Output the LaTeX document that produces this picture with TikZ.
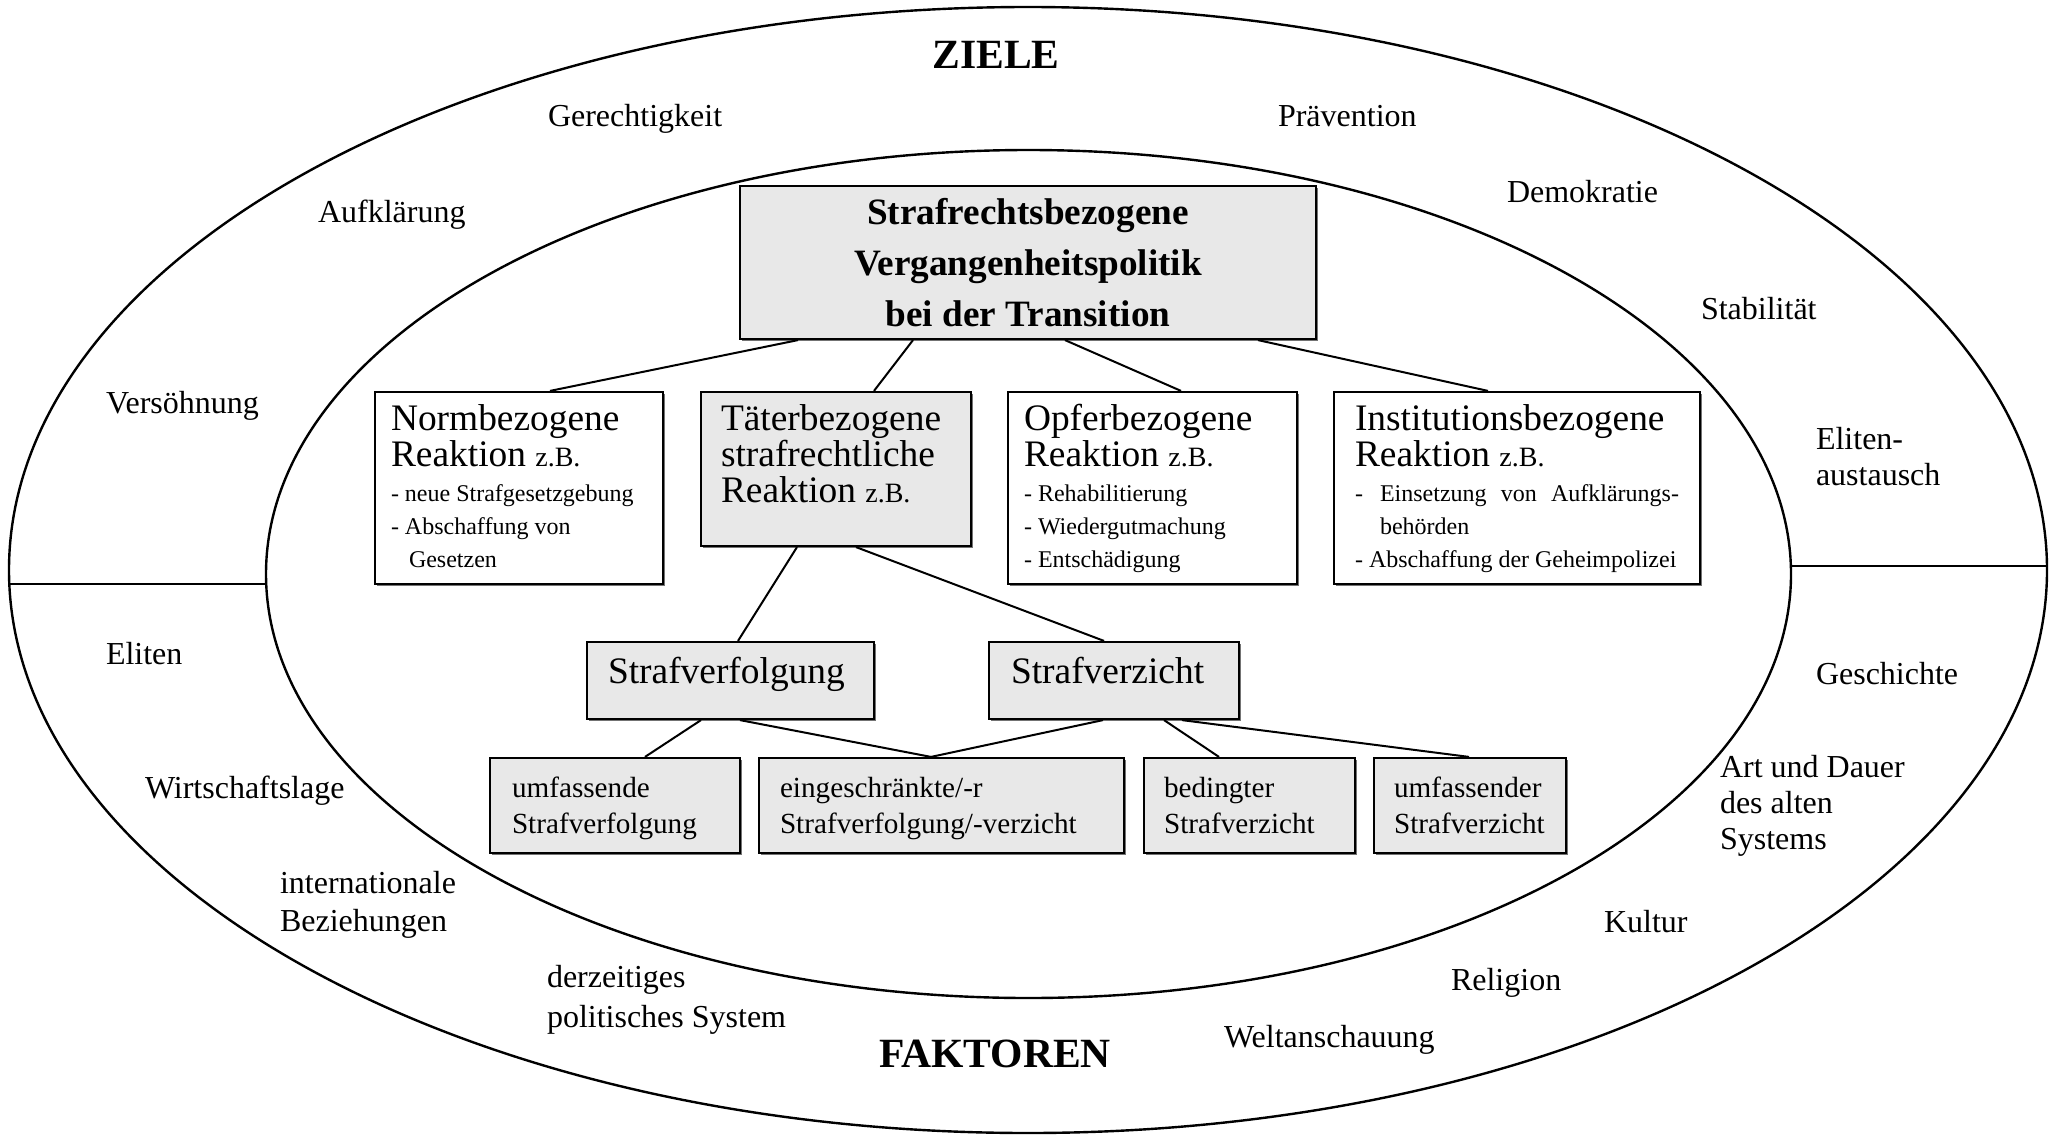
\documentclass[tikz,border=0pt]{standalone}
\usepackage{fontspec}
\setmainfont{Liberation Serif}
\usetikzlibrary{shadows}

\definecolor{boxgray}{RGB}{232,232,232}

% type sizes
\newcommand\fLab{\fontsize{16}{18}\selectfont}
\newcommand\fBig{\fontsize{20.8}{24}\selectfont\bfseries}
\newcommand\fTitle{\fontsize{18.6}{25.5}\selectfont\bfseries}
\newcommand\fHead{\fontsize{18.7}{18}\selectfont}
\newcommand\fItem{\fontsize{12}{16.5}\selectfont}
\newcommand\fSub{\fontsize{14.6}{18}\selectfont}
\newcommand\zb{{\fontsize{14}{14}\selectfont z.B.}}
\newcommand\lstack[1]{\begin{tabular}[t]{@{}l@{}}#1\end{tabular}}

\tikzset{
  ring/.style={line width=1.2pt},
  panel/.style={draw, line width=1.1pt, rectangle, inner sep=0pt,
    drop shadow={shadow xshift=0.8pt, shadow yshift=-0.8pt, fill=black!55, opacity=1}},
  plainbox/.style={panel, fill=white},
  greybox/.style={panel, fill=boxgray},
  txt/.style={inner sep=0pt, outer sep=0pt, anchor=base west},
  goal/.style={txt, font=\fLab},
  conn/.style={line width=1pt},
}

\begin{document}
\begin{tikzpicture}[x=0.5pt, y=-0.5pt]
  \useasboundingbox (0,0) rectangle (2055,1135);
  \fill[white] (0,0) rectangle (2055,1135);

  % the two rings and the dividing lines
  \draw[ring] (1028,570) ellipse [x radius=509.5pt, y radius=281.5pt];
  \draw[ring] (1028.5,574) ellipse [x radius=381.25pt, y radius=212pt];
  \draw[ring] (9.3,584) -- (266,584);
  \draw[ring] (1791,566) -- (2047,566);

  % boxes
  \node[greybox,  minimum width=288pt,   minimum height=76.5pt] (main) at (1028,262.5) {};
  \node[plainbox, minimum width=144pt,   minimum height=96pt]   (norm) at (519,488) {};
  \node[greybox,  minimum width=135pt,   minimum height=77pt]   (taeter) at (836,469) {};
  \node[plainbox, minimum width=144.5pt, minimum height=96pt]   (opfer) at (1152.5,488) {};
  \node[plainbox, minimum width=183pt,   minimum height=96pt]   (inst) at (1517,488) {};
  \node[greybox,  minimum width=143.5pt, minimum height=38.5pt] (verf) at (730.5,680.5) {};
  \node[greybox,  minimum width=125pt,   minimum height=38.5pt] (verz) at (1114,680.5) {};
  \node[greybox,  minimum width=125pt,   minimum height=47.5pt] (umfv) at (615,805.5) {};
  \node[greybox,  minimum width=182.5pt, minimum height=47.5pt] (einge) at (941.5,805.5) {};
  \node[greybox,  minimum width=105.5pt, minimum height=47.5pt] (bed) at (1249.5,805.5) {};
  \node[greybox,  minimum width=96pt,    minimum height=47.5pt] (umfz) at (1470,805.5) {};

  % connectors
  \draw[conn] ([xshift=-115pt]main.south)  -- ([xshift=15.5pt]norm.north);
  \draw[conn] ([xshift=-57.5pt]main.south) -- ([xshift=19pt]taeter.north);
  \draw[conn] ([xshift=18.5pt]main.south)  -- ([xshift=14.25pt]opfer.north);
  \draw[conn] ([xshift=115pt]main.south)   -- ([xshift=-14.5pt]inst.north);
  \draw[conn] ([xshift=-19.5pt]taeter.south) -- ([xshift=3.75pt]verf.north);
  \draw[conn] ([xshift=10pt]taeter.south)    -- ([xshift=-5pt]verz.north);
  \draw[conn] ([xshift=-14.75pt]verf.south) -- ([xshift=15pt]umfv.north);
  \draw[conn] ([xshift=4.75pt]verf.south)   -- ([xshift=-5.25pt]einge.north);
  \draw[conn] ([xshift=-5.5pt]verz.south)   -- ([xshift=-5.25pt]einge.north);
  \draw[conn] ([xshift=25pt]verz.south)     -- ([xshift=-15.25pt]bed.north);
  \draw[conn] ([xshift=34pt]verz.south)     -- ([xshift=-0.5pt]umfz.north);

  % box texts
  \node[txt, anchor=base] (maintxt) at (1028,224)
    {\fTitle\begin{tabular}[t]{@{}c@{}}Strafrechtsbezogene\\Vergangenheitspolitik\\bei der Transition\end{tabular}};
  \node[txt] (normtxt) at (391,430) {\parbox[t]{150pt}{\raggedright\fHead
    Normbezogene\\Reaktion \zb\par\vspace{1pt}\fItem
    - neue Strafgesetzgebung\\- Abschaffung von\\\hspace*{9pt}Gesetzen}};
  \node[txt] (taetertxt) at (721,430) {\parbox[t]{130pt}{\raggedright\fHead
    Täterbezogene\\strafrechtliche\\Reaktion \zb}};
  \node[txt] (opfertxt) at (1024,430) {\parbox[t]{135pt}{\raggedright\fHead
    Opferbezogene\\Reaktion \zb\par\vspace{1pt}\fItem
    - Rehabilitierung\\- Wiedergutmachung\\- Entschädigung}};
  \node[txt] (insttxt) at (1355,430) {\parbox[t]{170pt}{\raggedright\fHead
    Institutionsbezogene\\Reaktion \zb\par\vspace{1pt}\fItem
    \leavevmode\hbox to 162pt{\makebox[12.5pt][l]{-}Einsetzung\hfill von\hfill Aufklärungs-}\\
    \hspace*{12.5pt}behörden\\- Abschaffung der Geheimpolizei}};
  \node[txt, font=\fHead] (verftxt) at (608,683) {Strafverfolgung};
  \node[txt, font=\fHead] (verztxt) at (1011,683) {Strafverzicht};
  \node[txt, font=\fSub] (umfvtxt) at (512,797) {\lstack{umfassende\\Strafverfolgung}};
  \node[txt, font=\fSub] (eingetxt) at (780,797) {\lstack{eingeschränkte/-r\\Strafverfolgung/-verzicht}};
  \node[txt, font=\fSub] (bedtxt) at (1164,797) {\lstack{bedingter\\Strafverzicht}};
  \node[txt, font=\fSub] (umfztxt) at (1394,797) {\lstack{umfassender\\Strafverzicht}};

  % goals (upper half)
  \node[txt, anchor=base, font=\fBig] (ziele) at (996,68) {ZIELE};
  \node[goal] (gerecht) at (548,126) {Gerechtigkeit};
  \node[goal] (praev) at (1278,126) {Prävention};
  \node[goal] (aufkl) at (318,222) {Aufklärung};
  \node[goal] (demo) at (1507,202) {Demokratie};
  \node[goal] (stab) at (1701,319) {Stabilität};
  \node[goal] (versoehn) at (106,413) {Versöhnung};
  \node[goal] (elaus) at (1816,449) {\lstack{Eliten-\\austausch}};

  % factors (lower half)
  \node[goal] (eliten) at (106,664) {Eliten};
  \node[goal] (gesch) at (1816,684) {Geschichte};
  \node[goal] (wirt) at (145,798) {Wirtschaftslage};
  \node[goal] (artdauer) at (1720,777) {\lstack{Art und Dauer\\des alten\\Systems}};
  \node[goal, font=\fontsize{16}{19}\selectfont] (intbez) at (280,893) {\lstack{internationale\\Beziehungen}};
  \node[goal] (kultur) at (1604,932) {Kultur};
  \node[goal, font=\fontsize{16}{20}\selectfont] (polsys) at (547,987) {\lstack{derzeitiges\\politisches System}};
  \node[goal] (relig) at (1451,990) {Religion};
  \node[goal] (welt) at (1224,1047) {Weltanschauung};
  \node[txt, anchor=base, font=\fBig] (faktoren) at (995,1067) {FAKTOREN};
\end{tikzpicture}
\end{document}
